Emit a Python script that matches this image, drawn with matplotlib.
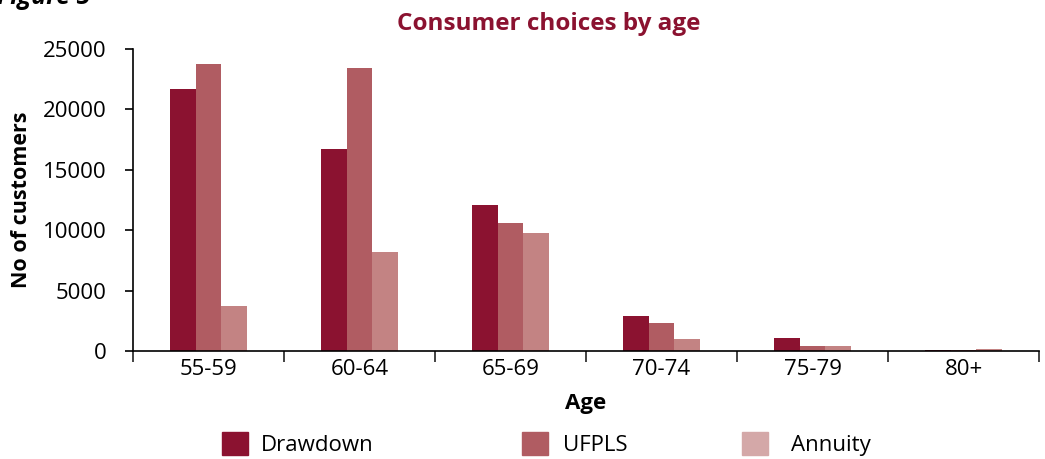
import numpy as np
import matplotlib.pyplot as plt
from matplotlib.patches import Patch

#data
ages = ["55-59", "60-64", "65-69", "70-74", "75-79", "80+"]
drawdown = [21700, 16700, 12100, 2900, 1100, 110]
ufpls = [23800, 23450, 10600, 2320, 440, 60]
annuity = [3730, 8200, 9770, 990, 440, 190]

c_draw = "#8b1230"
c_ufpls = "#b05c62"
c_ann = "#c38383"
c_ann_leg = "#d4a8a8"

plt.rcParams['font.family'] = ['Open Sans', 'DejaVu Sans']

fig = plt.figure(figsize=(10.45, 4.59), dpi=100)
ax = fig.add_axes([0.1273, 0.2353, 0.867, 0.6579])

x = np.arange(len(ages))
w = 0.17
ax.bar(x - w, drawdown, w, color=c_draw)
ax.bar(x, ufpls, w, color=c_ufpls)
ax.bar(x + w, annuity, w, color=c_ann)

ax.set_xlim(-0.5, len(ages) - 0.5)
ax.set_ylim(0, 25000)
ax.set_yticks(range(0, 25001, 5000))
ax.set_xticks(x)
ax.set_xticklabels(ages)
ax.set_xticks(np.arange(-0.5, len(ages)), minor=True)
ax.tick_params(axis='x', which='major', length=0, labelsize=16, pad=6)
ax.tick_params(axis='x', which='minor', length=8, width=1.2, color='#222222')
ax.tick_params(axis='y', length=6, width=1.2, labelsize=16, pad=13)
for s in ["top", "right"]:
    ax.spines[s].set_visible(False)
for s in ["left", "bottom"]:
    ax.spines[s].set_linewidth(1.2)

ax.set_xlabel("Age", fontsize=16, fontweight='bold', labelpad=9)
ax.set_ylabel("No of customers", fontsize=15.5, fontweight='bold', labelpad=8)
fig.text(0.525, 0.947, "Consumer choices by age", ha='center', va='center',
         fontsize=17.5, fontweight='bold', color=c_draw)
#partly cut off at the top edge, as in the reference
fig.text(-0.003, 0.992, "Figure 5", ha='left', va='baseline', fontsize=18,
         fontweight='bold', style='italic')

#three separate legend entries, spaced like the reference
for lab, col, xp, tp in [("Drawdown", c_draw, 0.2124, 0.6),
                         ("UFPLS", c_ufpls, 0.4995, 0.7),
                         ("Annuity", c_ann_leg, 0.71, 1.05)]:
    fig.legend(handles=[Patch(color=col)], labels=[lab], loc='center left',
               bbox_to_anchor=(xp, 0.033), frameon=False, fontsize=16,
               handlelength=1.15, handleheight=1.25, handletextpad=tp,
               borderaxespad=0, borderpad=0)

fig.savefig("out.png", dpi=100)
